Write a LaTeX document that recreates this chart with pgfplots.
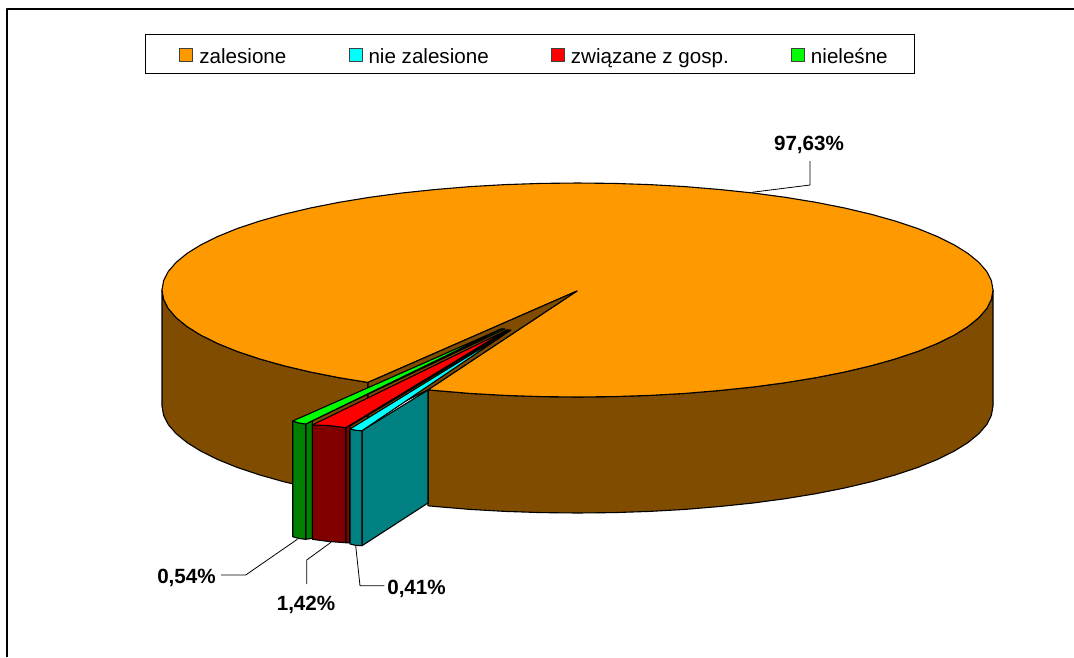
\documentclass[border=0pt]{standalone}
\usepackage{fontspec}
\setmainfont{Liberation Sans}
\usepackage{pgfplots}
\pgfplotsset{compat=1.18}

\definecolor{topor}{HTML}{FF9900}
\definecolor{sideor}{HTML}{7F4C00}
\definecolor{topcy}{HTML}{00FFFF}
\definecolor{sidecy}{HTML}{008080}
\definecolor{topre}{HTML}{FF0000}
\definecolor{sidere}{HTML}{800000}
\definecolor{topgr}{HTML}{00FF00}
\definecolor{sidegr}{HTML}{008000}

% legend text sits a little low in the original
\newcommand{\lowtext}[1]{\raisebox{-2.5pt}[15pt][4pt]{#1}}

\begin{document}
\begin{tikzpicture}
\begin{axis}[
  scale only axis,
  width=1074pt,
  height=657pt,
  xmin=0, xmax=1074,
  ymin=0, ymax=657,
  y dir=reverse,
  hide axis,
  clip=true,
  every axis plot/.append style={draw=black, line width=1.1pt, line join=round},
  legend columns=4,
  legend style={
    at={(axis cs:530,54)}, anchor=center,
    draw=black, line width=1pt,
    font=\fontsize{20.6}{24}\selectfont,
    inner xsep=25pt, inner ysep=9pt,
    /tikz/every even column/.append style={column sep=51pt},
  },
  legend image code/.code={
    \draw[#1, line width=0.9pt, draw=black!75] (0pt,-7.5pt) rectangle (13pt,5.5pt);
    \path (-9pt,0pt) (17pt,0pt);
  },
]
\addlegendimage{fill=topor}
\addlegendentry{\lowtext{zalesione}}
\addlegendimage{fill=topcy}
\addlegendentry{\lowtext{nie zalesione}}
\addlegendimage{fill=topre}
\addlegendentry{\lowtext{związane z gosp.}}
\addlegendimage{fill=topgr}
\addlegendentry{\lowtext{nieleśne}}

% keeps the whole page in the bounding box
\addplot[forget plot, draw=none] coordinates {(0,0) (1074,657)};

% outer frame, only top and left show
\addplot[forget plot, draw=black, line width=1.6pt] coordinates {(7,657) (7,9) (1074,9)};

% brown wall, left of the gap
\addplot[forget plot, fill=sideor] coordinates {
  (162,290) (163.6,299.3) (168.3,308.6) (176.2,317.7) (187.1,326.6) (200.9,335.2)
  (217.7,343.5) (237.1,351.4) (259.2,358.8) (283.7,365.7) (310.4,372) (339.2,377.7)
  (368,382.4) (368,498.4)
  (339.2,493.7) (310.4,488) (283.7,481.7) (259.2,474.8) (237.1,467.4) (217.7,459.5)
  (200.9,451.2) (187.1,442.6) (176.2,433.7) (168.3,424.6) (163.6,415.3) (162,406)
} -- cycle;

% brown wall, right of the gap
\addplot[forget plot, fill=sideor] coordinates {
  (428,389.8) (435.4,390.5) (470,393.4) (505.3,395.4) (541.3,396.6) (577.5,397)
  (613.7,396.6) (649.7,395.4) (685,393.4) (719.6,390.5) (753.1,387) (785.3,382.7)
  (815.8,377.7) (844.6,372) (871.3,365.7) (895.8,358.8) (917.9,351.4) (937.3,343.5)
  (954.1,335.2) (967.9,326.6) (978.8,317.7) (986.7,308.6) (991.4,299.3) (993,290)
  (993,406) (991.4,415.3) (986.7,424.6) (978.8,433.7) (967.9,442.6) (954.1,451.2)
  (937.3,459.5) (917.9,467.4) (895.8,474.8) (871.3,481.7) (844.6,488) (815.8,493.7)
  (785.3,498.7) (753.1,503) (719.6,506.5) (685,509.4) (649.7,511.4) (613.7,512.6)
  (577.5,513) (541.3,512.6) (505.3,511.4) (470,509.4) (435.4,506.5) (428,505.8)
} -- cycle;

% top of the big slice
\addplot[forget plot, fill=topor] coordinates {
  (577,291) (428,389.8) (435.4,390.5) (470,393.4) (505.3,395.4) (541.3,396.6) (577.5,397)
  (613.7,396.6) (649.7,395.4) (685,393.4) (719.6,390.5) (753.1,387) (785.3,382.7)
  (815.8,377.7) (844.6,372) (871.3,365.7) (895.8,358.8) (917.9,351.4) (937.3,343.5)
  (954.1,335.2) (967.9,326.6) (978.8,317.7) (986.7,308.6) (991.4,299.3) (993,290)
  (991.4,280.7) (986.7,271.4) (978.8,262.3) (967.9,253.4) (954.1,244.8) (937.3,236.5)
  (917.9,228.6) (895.8,221.2) (871.3,214.3) (844.6,208) (815.8,202.3) (785.3,197.3)
  (753.1,193) (719.6,189.5) (685,186.6) (649.7,184.6) (613.7,183.4) (577.5,183)
  (541.3,183.4) (505.3,184.6) (470,186.6) (435.4,189.5) (401.9,193) (369.7,197.3)
  (339.2,202.3) (310.4,208) (283.7,214.3) (259.2,221.2) (237.1,228.6) (217.7,236.5)
  (200.9,244.8) (187.1,253.4) (176.2,262.3) (168.3,271.4) (163.6,280.7) (162,290)
  (163.6,299.3) (168.3,308.6) (176.2,317.7) (187.1,326.6) (200.9,335.2) (217.7,343.5)
  (237.1,351.4) (259.2,358.8) (283.7,365.7) (310.4,372) (339.2,377.7) (368,382.4)
} -- cycle;

% inner wall seen through the gap
\addplot[forget plot, fill=sideor] coordinates {(577,291) (368,382.4) (368,420) (428,389.8)} -- cycle;

% green slice
\addplot[forget plot, fill=sidegr] coordinates {(305.7,424) (501,329) (505,329) (312.3,420.7) (312.3,538.3) (305.7,539.3)} -- cycle;
\addplot[forget plot, fill=sidegr] coordinates {(292.7,421) (299,423) (305.7,424) (305.7,539.3) (299,538.5) (292.7,536.7)} -- cycle;
\addplot[forget plot, fill=topgr] coordinates {(501,329) (292.7,421) (299,423) (305.7,424)} -- cycle;

% red slice
\addplot[forget plot, fill=sidere] coordinates {(345.7,427.7) (507,330) (510,330) (350,426) (350,542.7) (345.7,542.7)} -- cycle;
\addplot[forget plot, fill=sidere] coordinates {(312.3,425) (329,425.5) (345.7,427.7) (345.7,542.7) (329,541.5) (312.3,539.3)} -- cycle;
\addplot[forget plot, fill=topre] coordinates {(507,330) (312.3,425) (329,425.5) (345.7,427.7)} -- cycle;

% cyan slice
\addplot[forget plot, fill=sidecy] coordinates {(362,430.7) (428,390) (428,503) (362,545.7)} -- cycle;
\addplot[forget plot, fill=sidecy] coordinates {(350,429) (356,430.3) (362,430.7) (362,545.7) (356,545.4) (350,544)} -- cycle;
\addplot[forget plot, fill=topcy] coordinates {(511,330) (350,429) (356,430.3) (362,430.7)} -- cycle;

% leader lines
\addplot[forget plot, line width=0.8pt] coordinates {(752,192.3) (810,185) (810,161)};
\addplot[forget plot, line width=0.8pt] coordinates {(297.3,539.3) (245.7,575) (221,575)};
\addplot[forget plot, line width=0.8pt] coordinates {(331,542.3) (306.7,560) (306.7,584)};
\addplot[forget plot, line width=0.8pt] coordinates {(355.7,545.7) (360,585.7) (384.3,585.7)};

% data labels
\node[font=\fontsize{20.6}{24}\selectfont\bfseries] at (axis cs:809,145) {97,63\%};
\node[font=\fontsize{20.6}{24}\selectfont\bfseries] at (axis cs:186.5,578) {0,54\%};
\node[font=\fontsize{20.6}{24}\selectfont\bfseries] at (axis cs:306,605) {1,42\%};
\node[font=\fontsize{20.6}{24}\selectfont\bfseries] at (axis cs:416.5,589) {0,41\%};
\end{axis}
\end{tikzpicture}
\end{document}
